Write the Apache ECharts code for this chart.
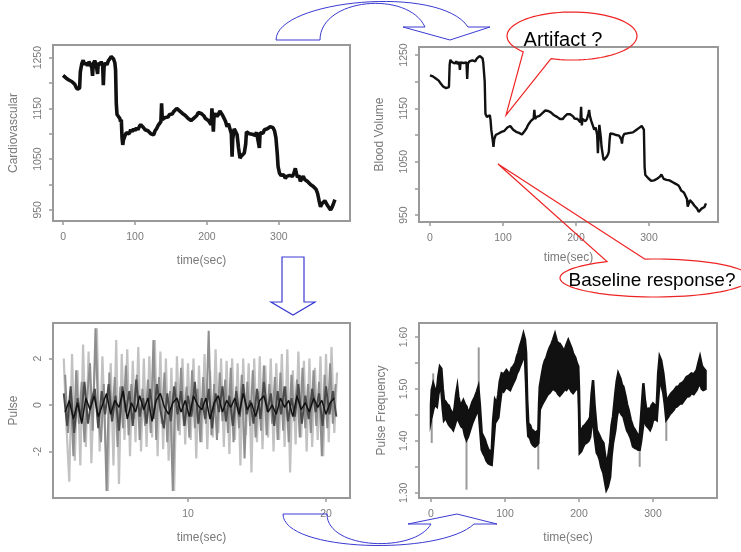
<!DOCTYPE html>
<html>
<head>
<meta charset="utf-8">
<script src="https://cdn.jsdelivr.net/npm/echarts@6/dist/echarts.min.js"></script>
<style>
  html, body { margin: 0; padding: 0; background: #fff; }
  #chart { width: 741px; height: 552px; }
</style>
</head>
<body>
<div id="chart"></div>
<script>
// top left: Cardiovascular [time, value]
var cardio = [
  [0,1215],[2,1218],[4,1210],[6,1212],[8,1206],[10,1208],[12,1203],[14,1205],[16,1198],[18,1192],
  [20,1188],[22,1185],[23,1190],[24,1222],[26,1238],[28,1245],[30,1236],[32,1240],[34,1234],[36,1242],
  [38,1237],[40,1230],[41,1214],[42,1238],[44,1244],[46,1236],[48,1218],[49,1240],[51,1236],[53,1242],
  [55,1235],[56,1196],[57,1232],[59,1240],[61,1236],[63,1244],[65,1248],[67,1252],[68,1254],[70,1248],
  [72,1240],[73,1226],[74,1160],[75,1138],[77,1135],[79,1130],[80,1124],[81,1128],[82,1092],[83,1078],
  [84,1088],[86,1096],[88,1102],[90,1105],[92,1100],[94,1108],[96,1104],[98,1110],[100,1106],[102,1112],
  [104,1108],[106,1114],[108,1118],[110,1115],[112,1112],[114,1108],[116,1110],[118,1106],[120,1104],[122,1100],
  [124,1102],[126,1098],[128,1106],[130,1110],[132,1116],[134,1120],[136,1124],[137,1160],[138,1128],[140,1130],
  [142,1132],[144,1135],[146,1133],[148,1138],[150,1140],[152,1139],[154,1144],[156,1146],[158,1150],[160,1148],
  [162,1145],[164,1142],[166,1140],[168,1137],[170,1136],[172,1133],[174,1130],[176,1128],[178,1126],[180,1128],
  [182,1131],[184,1134],[186,1136],[188,1142],[190,1145],[192,1140],[194,1138],[196,1135],[198,1130],[200,1128],
  [202,1126],[204,1122],[206,1118],[207,1150],[208,1128],[209,1104],[210,1136],[212,1140],[214,1134],[216,1138],
  [218,1145],[220,1142],[222,1136],[224,1130],[226,1124],[228,1114],[230,1120],[232,1118],[234,1100],[235,1055],
  [236,1090],[238,1110],[240,1112],[242,1098],[244,1072],[246,1052],[248,1056],[250,1054],[252,1062],[254,1080],
  [255,1104],[257,1106],[259,1100],[261,1103],[263,1099],[265,1100],[267,1097],[269,1103],[271,1100],[273,1072],
  [274,1102],[276,1104],[278,1101],[280,1108],[282,1106],[284,1110],[286,1108],[288,1114],[290,1116],[292,1112],
  [294,1106],[296,1092],[298,1058],[299,1035],[301,1022],[303,1018],[305,1015],[307,1019],[309,1012],[311,1016],
  [313,1014],[315,1018],[317,1020],[319,1016],[321,1022],[323,1032],[324,1024],[326,1014],[328,1018],[330,1006],
  [332,1012],[334,1016],[336,1010],[338,1012],[340,1006],[342,1008],[344,1000],[346,1002],[348,996],[350,993],
  [352,990],[354,982],[356,968],[358,956],[360,962],[362,960],[364,968],[366,965],[368,958],[370,956],
  [372,950],[374,955],[376,962],[378,970]
];

// top right: Blood Volume [time, value]
var blood = [
  [0,1212],[2,1211],[4,1210],[6,1208],[8,1206],[10,1205],[12,1202],[14,1198],[16,1195],[18,1191],
  [20,1189],[22,1188],[24,1187],[26,1190],[27,1232],[28,1241],[30,1237],[32,1239],[34,1234],[36,1238],
  [38,1233],[40,1237],[41,1222],[42,1236],[44,1239],[46,1235],[48,1238],[50,1236],[51,1205],[52,1234],
  [54,1238],[56,1236],[58,1240],[60,1241],[62,1238],[64,1243],[66,1246],[68,1248],[70,1250],[72,1244],
  [73,1236],[75,1200],[76,1140],[78,1134],[80,1131],[82,1137],[83,1128],[84,1110],[86,1090],[87,1078],
  [88,1092],[90,1100],[92,1098],[94,1103],[96,1101],[98,1106],[100,1104],[102,1108],[104,1110],[106,1114],
  [108,1116],[110,1117],[112,1114],[114,1110],[116,1108],[118,1106],[120,1105],[122,1104],[124,1102],[126,1101],
  [128,1104],[130,1108],[132,1112],[134,1118],[136,1122],[138,1126],[140,1128],[142,1131],[143,1147],[144,1130],
  [146,1134],[148,1135],[150,1136],[152,1138],[154,1141],[156,1143],[158,1146],[160,1147],[162,1145],[164,1143],
  [166,1142],[168,1139],[170,1137],[172,1135],[174,1134],[176,1132],[178,1130],[180,1128],[182,1130],[184,1134],
  [186,1136],[188,1139],[190,1141],[192,1139],[194,1137],[196,1135],[198,1131],[200,1128],[202,1130],[204,1127],
  [206,1124],[207,1153],[208,1118],[209,1130],[211,1128],[213,1126],[215,1130],[217,1140],[218,1147],[219,1136],
  [221,1126],[223,1118],[225,1110],[227,1114],[229,1100],[230,1066],[231,1095],[232,1119],[234,1096],[235,1078],
  [237,1060],[238,1053],[240,1056],[242,1059],[244,1064],[245,1069],[246,1090],[247,1103],[249,1106],[251,1102],
  [253,1104],[255,1100],[257,1102],[259,1099],[261,1100],[262,1092],[263,1084],[264,1096],[266,1102],[268,1100],
  [270,1103],[272,1101],[274,1104],[276,1106],[278,1105],[280,1108],[282,1109],[284,1111],[286,1113],[288,1115],
  [290,1117],[292,1114],[293,1110],[294,1040],[295,1025],[297,1022],[299,1019],[301,1018],[303,1014],[305,1012],
  [307,1015],[309,1016],[311,1018],[313,1021],[315,1022],[317,1026],[318,1028],[320,1018],[322,1020],[324,1016],
  [326,1019],[328,1015],[330,1016],[332,1012],[334,1010],[336,1009],[338,1008],[340,1006],[342,1002],[344,996],
  [346,994],[348,992],[350,990],[352,980],[353,966],[355,974],[356,978],[358,975],[360,972],[362,968],
  [364,970],[366,962],[368,956],[370,958],[372,962],[374,960],[376,965],[378,972]
];

// bottom left: Pulse, sampled from pulseStart every pulseStep seconds
var pulseLight = [
  2.0,-1.0,-3.3,2.2,-2.4,1.5,-2.6,2.6,-1.8,2.3,-2.5,1.0,3.3,-2.0,2.1,-1.2,-3.7,1.8,-2.6,2.8,
  -3.4,2.2,-1.5,2.4,-2.2,1.9,-1.6,2.5,-2.0,2.0,-1.8,2.1,-1.4,2.8,-2.2,2.3,-1.9,2.0,-2.4,1.6,
  -3.7,2.1,-1.3,2.0,-1.7,1.8,-1.5,2.0,-2.3,1.7,-1.6,2.2,-1.9,1.5,-1.4,2.4,-1.2,2.0,-1.8,1.9,
  -2.1,2.0,-1.5,1.8,-2.6,2.0,-1.3,1.8,-2.9,2.0,-1.6,2.1,-1.9,1.7,-1.4,2.0,-2.0,1.8,-1.5,2.2,
  -1.8,2.4,-2.9,1.5,-1.7,2.3,-1.4,1.9,-2.0,2.0,-1.8,1.6,-1.5,2.1,-2.2,2.2,-1.6,2.5,-1.2,1.4
];
var pulseMid = [
  1.3,-1.2,0.6,-2.2,1.5,-0.8,1.0,-1.6,0.4,1.8,-1.1,3.3,-0.5,-1.6,0.9,-3.7,1.4,-0.7,1.2,-1.8,
  0.8,-1.0,1.7,-1.3,0.9,-0.6,1.3,-1.5,0.7,-0.9,1.1,-1.2,2.8,-1.5,1.2,-0.8,1.4,-1.6,0.6,-3.7,
  1.0,-1.1,1.6,-0.9,0.8,-1.4,1.5,-1.0,0.7,-1.6,1.2,-0.8,3.2,-1.3,0.9,-1.5,1.4,-0.7,1.1,-1.2,
  1.6,-1.6,0.8,-1.0,1.3,-2.3,1.0,-0.9,1.5,-1.4,0.6,-1.1,1.7,-1.3,0.9,-0.8,1.2,-1.5,1.4,-1.1,
  0.8,-1.6,1.3,-0.7,1.1,-1.4,1.6,-1.0,0.9,-1.2,1.5,-0.9,1.0,-2.2,1.3,-1.0,1.8,-0.8,0.9
];
var pulseDark = [
  0.5,-0.9,0.8,-1.2,0.3,-0.6,1.0,-0.8,0.2,0.7,-1.0,0.6,-0.4,0.9,-0.7,0.4,-1.1,0.8,-0.3,0.6,
  -0.9,1.1,-0.5,0.3,-0.8,0.7,-0.6,0.9,-0.2,-1.0,0.5,-0.7,0.8,-0.4,0.6,-0.9,0.4,-0.5,1.0,-0.8,
  0.3,-0.6,0.7,-1.0,0.5,-0.3,0.8,-0.7,0.4,-0.9,0.6,-0.5,0.9,-0.4,0.2,-0.8,0.7,-0.6,1.0,-0.3,
  0.5,-0.9,0.6,-0.4,0.8,-0.7,0.3,-0.5,0.9,-0.8,0.4,-0.6,0.7,-0.3,0.5,-0.9,0.8,-0.4,0.6,-0.5
];
var pulseBlack = [
  -0.3,0.2,-0.6,0.1,-0.8,0.3,-0.2,0.4,-0.5,0.0,0.5,-0.4,0.2,-0.1,0.6,-0.6,0.1,-0.3,0.4,-0.2,
  0.3,-0.7,0.2,0.5,-0.1,-0.4,0.1,0.3,-0.3,0.2,-0.5,0.4,0.0,-0.2,0.3,-0.6,0.1,0.4,-0.3,0.2,
  -0.1,0.3,-0.4,0.5,-0.2,0.1,-0.5,0.2,0.4,-0.3,0.0,-0.4,0.3,-0.1,0.2,-0.5,0.4,-0.2,0.1,-0.3,
  0.3,-0.1,0.2,-0.4,0.1,0.3
];

// bottom right: Pulse Frequency band [time, low, high]
var pulseFreq = [
  [0,1.440,1.470],[1,1.447,1.498],[3,1.460,1.510],[5,1.470,1.500],[8,1.466,1.498],[10,1.490,1.525],
  [12,1.504,1.543],[14,1.498,1.539],[16,1.460,1.500],[17.5,1.440,1.479],[20,1.445,1.475],[22,1.438,1.470],
  [24,1.432,1.468],[26,1.428,1.460],[28,1.425,1.455],[30,1.421,1.447],[32,1.430,1.465],[34,1.440,1.490],
  [35.6,1.447,1.504],[37,1.440,1.485],[39,1.434,1.472],[41,1.428,1.470],[43.7,1.425,1.478],[46,1.410,1.470],
  [48,1.402,1.466],[50,1.408,1.455],[52.7,1.420,1.460],[56,1.435,1.475],[59.5,1.447,1.485],[62,1.455,1.495],
  [64,1.466,1.504],[66,1.430,1.470],[68.5,1.383,1.415],[71,1.375,1.408],[73,1.370,1.402],[75,1.362,1.392],
  [77.5,1.357,1.383],[80,1.355,1.380],[82,1.354,1.377],[84,1.390,1.440],[86.5,1.434,1.479],[89,1.440,1.472],
  [91,1.445,1.490],[93,1.470,1.515],[95.5,1.498,1.530],[98,1.495,1.528],[102,1.504,1.536],[105,1.500,1.530],
  [107,1.498,1.530],[109,1.505,1.540],[111,1.511,1.543],[114,1.520,1.550],[116,1.530,1.562],[118,1.535,1.570],
  [120,1.543,1.581],[122,1.550,1.590],[125,1.562,1.606],[127,1.560,1.595],[128.5,1.510,1.570],[130,1.440,1.480],
  [131.5,1.409,1.434],[134,1.405,1.430],[136,1.396,1.421],[138,1.392,1.420],[140.5,1.389,1.415],[143,1.392,1.418],
  [145,1.396,1.415],[146,1.420,1.470],[147,1.460,1.504],[150,1.470,1.530],[152,1.475,1.545],[154,1.480,1.555],
  [156,1.485,1.560],[158,1.490,1.570],[160,1.492,1.578],[163,1.498,1.587],[165,1.500,1.595],[167.5,1.498,1.606],
  [170,1.495,1.592],[172,1.490,1.588],[174,1.487,1.587],[177,1.492,1.580],[179,1.496,1.575],[181,1.500,1.576],
  [183,1.498,1.585],[185.5,1.504,1.594],[188,1.500,1.585],[190,1.495,1.578],[192,1.492,1.568],[195,1.498,1.560],
  [197,1.500,1.550],[199,1.504,1.543],[200,1.460,1.500],[201,1.377,1.421],[203,1.380,1.420],[206,1.390,1.428],
  [208,1.395,1.430],[210,1.396,1.434],[213,1.400,1.440],[215,1.407,1.445],[217,1.430,1.490],[219,1.447,1.517],
  [221,1.410,1.470],[224,1.377,1.421],[226,1.372,1.415],[228,1.364,1.409],[230,1.350,1.402],[233,1.338,1.396],
  [235,1.322,1.375],[237,1.306,1.357],[239,1.312,1.365],[242,1.330,1.396],[244,1.370,1.430],[246,1.396,1.447],
  [249,1.420,1.490],[251,1.445,1.515],[253,1.460,1.530],[256,1.455,1.520],[258,1.450,1.508],[260,1.447,1.504],
  [263,1.430,1.485],[265,1.420,1.470],[267,1.415,1.460],[270,1.405,1.440],[273,1.389,1.427],[276,1.386,1.420],
  [278,1.385,1.415],[280,1.383,1.410],[282,1.383,1.409],[284,1.400,1.450],[287,1.434,1.511],[289,1.440,1.480],
  [291,1.430,1.460],[294,1.425,1.462],[296,1.421,1.460],[298,1.428,1.468],[300,1.440,1.472],[303,1.442,1.468],
  [305,1.440,1.466],[307,1.480,1.530],[309,1.517,1.562],[311,1.510,1.555],[314,1.492,1.530],[316,1.470,1.505],
  [318,1.441,1.479],[320,1.445,1.480],[323,1.452,1.488],[325,1.455,1.492],[328,1.460,1.496],[330,1.465,1.500],
  [332,1.466,1.504],[335,1.470,1.505],[337,1.472,1.510],[339,1.472,1.511],[342,1.478,1.515],[345.5,1.485,1.523],
  [349,1.486,1.526],[352,1.492,1.530],[355,1.490,1.528],[359,1.498,1.536],[361,1.505,1.548],[363.5,1.511,1.562],
  [366,1.500,1.545],[368,1.498,1.540],[371,1.500,1.535]
];
// grey spikes on the pulse frequency plot [time, from, to]
var pfSpikes = [[1,1.44,1.396],[3,1.51,1.53],[48,1.40,1.306],[64.5,1.50,1.58],[145,1.40,1.345],[282,1.383,1.35],[318,1.44,1.40]];

// tick and label values
var cvTicks = [950,1000,1050,1100,1150,1200,1250];
var cvLabels = [950,1050,1150,1250];
var timeTicks = [0,100,200,300];
var pulseTicks = [-2,0,2];
var pulseTimeTicks = [10,20];
var pfTicks = [1.30,1.35,1.40,1.45,1.50,1.55,1.60];
var pfLabels = [1.30,1.40,1.50,1.60];

var pulseStart = 1.0, pulseStep = 0.2;

function seq(start, step, vals) {
    return vals.map(function (v, i) { return [start + i * step, v]; });
}

var grey = '#7a7a7a';
var labelStyle = { color: grey, fontSize: 10.5, fontFamily: 'Liberation Sans' };
function plain(v) { return String(v); }

function xAx(idx, min, max, ticks, gap) {
    return {
        type: 'value', gridIndex: idx, min: min, max: max,
        name: 'time(sec)', nameLocation: 'middle', nameGap: gap,
        nameTextStyle: { color: grey, fontSize: 12, fontFamily: 'Liberation Sans' },
        axisLine: { show: true, onZero: false, lineStyle: { color: '#999', width: 2 } },
        axisTick: { show: true, inside: false, length: 4, customValues: ticks, lineStyle: { color: '#999', width: 1.5 } },
        axisLabel: Object.assign({ customValues: ticks, margin: 11, formatter: plain }, labelStyle),
        splitLine: { show: false }
    };
}
function yAx(idx, min, max, ticks, labels, name, gap, fmt) {
    return {
        type: 'value', gridIndex: idx, min: min, max: max,
        name: name, nameLocation: 'middle', nameGap: gap,
        nameTextStyle: { color: grey, fontSize: 12, fontFamily: 'Liberation Sans' },
        axisLine: { show: true, onZero: false, lineStyle: { color: '#999', width: 2 } },
        axisTick: { show: true, inside: false, length: 4, customValues: ticks, lineStyle: { color: '#999', width: 1.5 } },
        axisLabel: Object.assign({ customValues: labels, margin: 9, rotate: 90, formatter: fmt || plain }, labelStyle),
        splitLine: { show: false }
    };
}

function bandItem(params, api) {
    if (params.dataIndex !== 0) return null;
    var pts = [];
    for (var i = 0; i < pulseFreq.length; i++) pts.push(api.coord([pulseFreq[i][0], pulseFreq[i][1]]));
    for (var j = pulseFreq.length - 1; j >= 0; j--) pts.push(api.coord([pulseFreq[j][0], pulseFreq[j][2]]));
    return { type: 'polygon', shape: { points: pts }, style: { fill: '#111', stroke: '#111', lineWidth: 2.5 } };
}
function spikeItem(params, api) {
    var a = api.coord([api.value(0), api.value(1)]);
    var b = api.coord([api.value(0), api.value(2)]);
    return { type: 'line', shape: { x1: a[0], y1: a[1], x2: b[0], y2: b[1] }, style: { stroke: '#9a9a9a', lineWidth: 2 } };
}

// callout outline: ellipse arc from angle a0 to a1 (radians), then the pointer tip
function callout(cx, cy, rx, ry, a0, a1, tip) {
    var pts = [];
    var n = 80;
    for (var k = 0; k <= n; k++) {
        var a = a0 + (a1 - a0) * k / n;
        pts.push([cx + rx * Math.cos(a), cy + ry * Math.sin(a)]);
    }
    pts.push(tip);
    pts.push(pts[0]);
    return pts;
}

var chartDom = document.getElementById('chart');
var myChart = echarts.init(chartDom, null, { renderer: 'canvas' });
var blue = '#3a3ad2';
var red = '#ee2424';
var arrowStyle = { fill: 'none', stroke: blue, lineWidth: 1 };

var option = {
    animation: false,
    backgroundColor: '#fff',
    grid: [
        { left: 53, top: 45, width: 297, height: 176, show: true, borderColor: '#999', borderWidth: 2 },
        { left: 419, top: 47, width: 299, height: 175, show: true, borderColor: '#999', borderWidth: 2 },
        { left: 53, top: 323, width: 297, height: 175, show: true, borderColor: '#999', borderWidth: 2 },
        { left: 419, top: 323, width: 298, height: 175, show: true, borderColor: '#999', borderWidth: 2 }
    ],
    xAxis: [
        xAx(0, -14, 399, timeTicks, 34),
        xAx(1, -15, 394.5, timeTicks, 30),
        xAx(2, 0.22, 21.74, pulseTimeTicks, 34),
        xAx(3, -16.2, 386.5, timeTicks, 34)
    ],
    yAxis: [
        yAx(0, 928, 1275, cvTicks, cvLabels, 'Cardiovascular', 33),
        yAx(1, 937, 1265, cvTicks, cvLabels, 'Blood Volume', 33),
        yAx(2, -4.0, 3.53, pulseTicks, pulseTicks, 'Pulse', 33),
        yAx(3, 1.29, 1.627, pfTicks, pfLabels, 'Pulse Frequency', 31, function (v) { return v.toFixed(2); })
    ],
    series: [
        {
            name: 'Cardiovascular', type: 'line', xAxisIndex: 0, yAxisIndex: 0,
            data: cardio, symbol: 'none', lineStyle: { color: '#111', width: 3.6 }
        },
        {
            name: 'Blood Volume', type: 'line', xAxisIndex: 1, yAxisIndex: 1,
            data: blood, symbol: 'none', lineStyle: { color: '#111', width: 2.4 }
        },
        {
            name: 'Pulse light', type: 'line', xAxisIndex: 2, yAxisIndex: 2,
            data: seq(pulseStart, pulseStep, pulseLight), symbol: 'none', lineStyle: { color: '#c2c2c2', width: 2.2 }
        },
        {
            name: 'Pulse mid', type: 'line', xAxisIndex: 2, yAxisIndex: 2,
            data: seq(pulseStart + 0.1, pulseStep, pulseMid), symbol: 'none', lineStyle: { color: '#8e8e8e', width: 2 }
        },
        {
            name: 'Pulse dark', type: 'line', xAxisIndex: 2, yAxisIndex: 2,
            data: seq(pulseStart, 0.25, pulseDark), symbol: 'none', lineStyle: { color: '#4a4a4a', width: 2 }
        },
        {
            name: 'Pulse black', type: 'line', xAxisIndex: 2, yAxisIndex: 2,
            data: seq(pulseStart + 0.1, 0.3, pulseBlack), symbol: 'none', lineStyle: { color: '#111', width: 1.5 }
        },
        {
            name: 'Pulse Frequency spikes', type: 'custom', xAxisIndex: 3, yAxisIndex: 3,
            data: pfSpikes, renderItem: spikeItem
        },
        {
            name: 'Pulse Frequency', type: 'custom', xAxisIndex: 3, yAxisIndex: 3,
            data: pulseFreq, renderItem: bandItem
        }
    ],
    graphic: [
        // curved arrow, top
        { type: 'bezierCurve', z: 100, shape: { x1: 276, y1: 40, cpx1: 276, cpy1: 0, cpx2: 440, cpy2: -16, x2: 468, y2: 27 }, style: arrowStyle },
        { type: 'bezierCurve', z: 100, shape: { x1: 320, y1: 40, cpx1: 320, cpy1: -2, cpx2: 408, cpy2: -10, x2: 425, y2: 27 }, style: arrowStyle },
        { type: 'polyline', z: 100, shape: { points: [[468,27],[490,27],[450,40],[403,27],[425,27]] }, style: arrowStyle },
        { type: 'line', z: 100, shape: { x1: 276, y1: 40, x2: 320, y2: 40 }, style: arrowStyle },
        // down arrow
        { type: 'polygon', z: 100, shape: { points: [[282,257],[304,257],[304,302],[315,302],[293,315],[271,302],[282,302]] },
          style: { fill: 'none', stroke: blue, lineWidth: 1.2 } },
        // curved arrow, bottom
        { type: 'bezierCurve', z: 100, shape: { x1: 283, y1: 514, cpx1: 283, cpy1: 552, cpx2: 440, cpy2: 556, x2: 474, y2: 524 }, style: arrowStyle },
        { type: 'bezierCurve', z: 100, shape: { x1: 327, y1: 514, cpx1: 327, cpy1: 550, cpx2: 415, cpy2: 553, x2: 431, y2: 524 }, style: arrowStyle },
        { type: 'polyline', z: 100, shape: { points: [[474,524],[497,524],[457,514],[408,524],[431,524]] }, style: arrowStyle },
        { type: 'line', z: 100, shape: { x1: 283, y1: 514, x2: 327, y2: 514 }, style: arrowStyle },
        // callouts
        { type: 'polyline', z: 100, shape: { points: callout(572, 36, 65, 24, 1.90, 1.90 - 2 * Math.PI + 0.52, [506, 115]) },
          style: { fill: 'none', stroke: red, lineWidth: 1.2 } },
        { type: 'text', z: 101, x: 563, y: 40,
          style: { text: 'Artifact ?', fill: '#000', fontSize: 20, fontFamily: 'Liberation Sans', align: 'center', verticalAlign: 'middle' } },
        { type: 'polyline', z: 100, shape: { points: callout(655, 278, 95, 19, -1.68, -1.68 + 2 * Math.PI - 0.42, [498, 164]) },
          style: { fill: 'none', stroke: red, lineWidth: 1.2 } },
        { type: 'text', z: 101, x: 652, y: 281,
          style: { text: 'Baseline response?', fill: '#000', fontSize: 19, fontFamily: 'Liberation Sans', align: 'center', verticalAlign: 'middle' } }
    ]
};

option && myChart.setOption(option);
</script>
</body>
</html>
